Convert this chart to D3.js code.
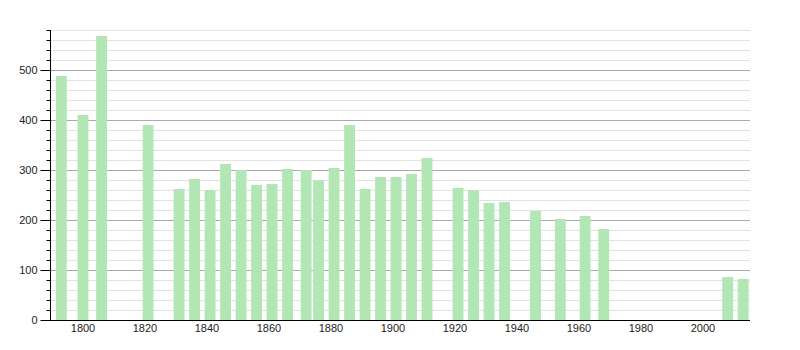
<!DOCTYPE html>
<html><head><meta charset="utf-8">
<script src="https://cdn.jsdelivr.net/npm/d3@7"></script>
<style>body{margin:0;background:#fff;}svg{display:block;font-family:"Liberation Sans",Arial,sans-serif;}</style>
</head><body>
<svg id="c" width="800" height="350"></svg>
<script>
const years = [1793,1800,1806,1821,1831,1836,1841,1846,1851,1856,1861,1866,1872,1876,1881,1886,1891,1896,1901,1906,1911,1921,1926,1931,1936,1946,1954,1962,1968,2008,2013];
const population = [488,410,568,390,262,282,260,312,300,270,272,302,300,279,304,390,262,286,286,292,324,264,260,234,236,218,202,208,182,86,82];
const xTicks = [1800,1820,1840,1860,1880,1900,1920,1940,1960,1980,2000];
const yTicks = [0,100,200,300,400,500];

const svg = d3.select("#c");
const x = d3.scaleLinear().domain([1789.35, 2015.2]).range([50, 750]);
const y = d3.scaleLinear().domain([0, 580]).range([320, 30]);
const bw = x(1803.5) - x(1800);

// minor grid
const minor = d3.range(20, 581, 20).filter(v => v % 100 !== 0);
svg.append("g").selectAll("line").data(minor).join("line")
  .attr("x1", 50).attr("x2", 750).attr("y1", d => y(d)+0.5).attr("y2", d => y(d)+0.5)
  .attr("stroke", "#e2e2e2").attr("stroke-width", 1);
svg.append("g").selectAll("line").data(yTicks.filter(d => d > 0)).join("line")
  .attr("x1", 50).attr("x2", 750).attr("y1", d => y(d)+0.5).attr("y2", d => y(d)+0.5)
  .attr("stroke", "#aaaaaa").attr("stroke-width", 1);

// bars
svg.append("g").selectAll("rect").data(years).join("rect")
  .attr("x", (d) => x(d) - bw/2)
  .attr("width", bw)
  .attr("y", (d,i) => y(population[i]))
  .attr("height", (d,i) => y(0) - y(population[i]))
  .attr("fill", "#b2e6b4");

// y axis
const ya = svg.append("g").attr("transform", "translate(50.5,0)");
ya.append("line").attr("x1",0).attr("x2",0).attr("y1",y(580)).attr("y2",y(0)).attr("stroke","#000");
ya.selectAll(".mi").data(d3.range(0,581,20)).join("line")
  .attr("x1", d => d % 100 === 0 ? -10 : -4).attr("x2", 0)
  .attr("y1", d => y(d)+0.5).attr("y2", d => y(d)+0.5).attr("stroke","#000");
ya.selectAll("text").data(yTicks).join("text")
  .attr("x", -13).attr("y", d => y(d)).attr("dy","0.35em")
  .attr("text-anchor","end").attr("font-size",11).attr("fill","#222").text(d => d);

// x axis
svg.append("line").attr("x1",50).attr("x2",750).attr("y1",320.5).attr("y2",320.5).attr("stroke","#000");
svg.append("g").selectAll("text").data(xTicks).join("text")
  .attr("x", d => x(d)).attr("y", 328.5).attr("dy","0.35em")
  .attr("text-anchor","middle").attr("font-size",11).attr("fill","#222").text(d => d);
</script>
</body></html>
